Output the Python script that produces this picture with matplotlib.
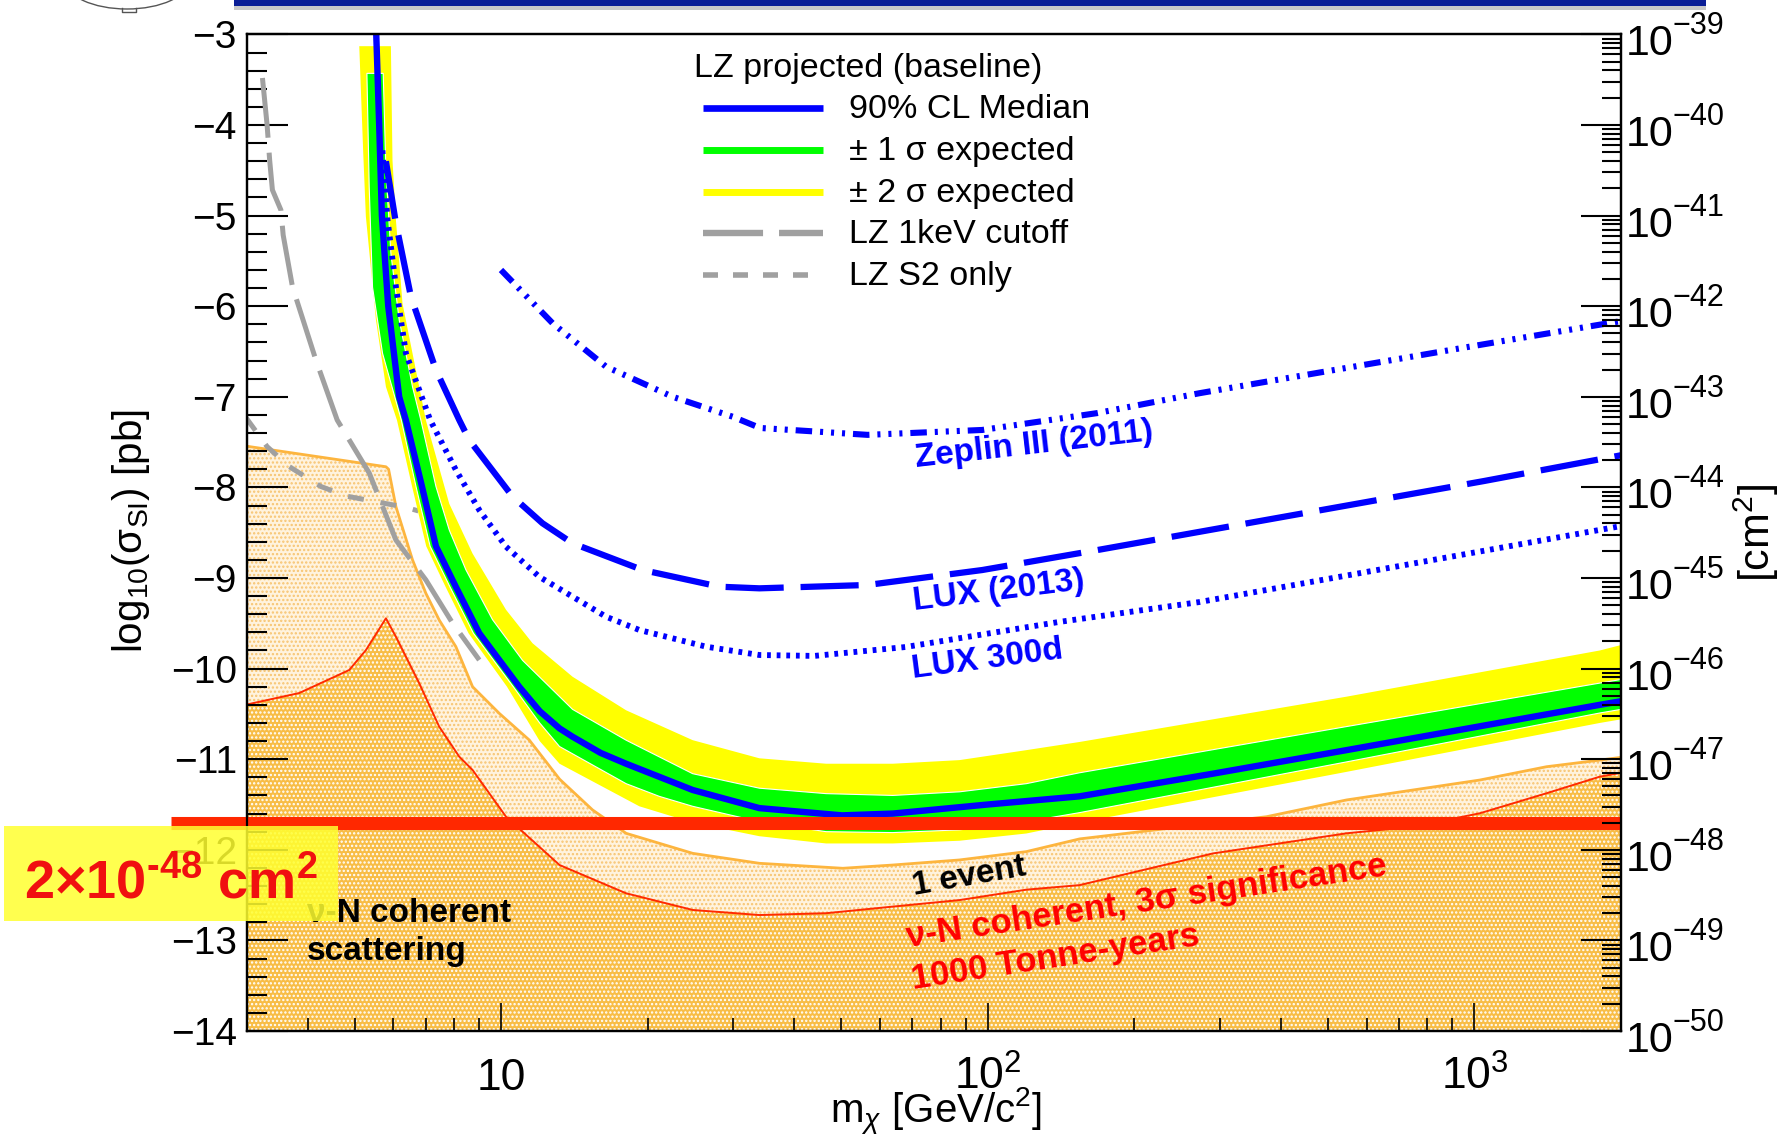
import numpy as np
import matplotlib
matplotlib.use("Agg")
import matplotlib.pyplot as plt
from matplotlib.patches import Rectangle, Arc
from matplotlib.lines import Line2D
from matplotlib.ticker import MultipleLocator, LogLocator, FuncFormatter, NullFormatter
from matplotlib.transforms import blended_transform_factory

plt.rcParams['font.family'] = ['Liberation Sans', 'DejaVu Sans']
plt.rcParams['mathtext.fontset'] = 'custom'
plt.rcParams['mathtext.rm'] = 'Liberation Sans'
plt.rcParams['mathtext.it'] = 'Liberation Sans:italic'
plt.rcParams['mathtext.bf'] = 'Liberation Sans:bold'
plt.rcParams['hatch.linewidth'] = 1.1

# ---------------- data: WIMP mass [GeV/c^2], log10(sigma_SI / pb) ----------------
med_m = [5.53, 5.615, 5.687, 5.861, 6.172, 6.372, 6.875, 7.345, 8.074, 9.016, 10.89, 12.0, 13.18, 14.0,
         16.0, 18.06, 24.75, 33.93, 50.2, 63.8, 100, 154.3, 290, 545.6, 1809, 2000]
med_s = [-2.9, -4.0, -5.0, -6.0, -7.0, -7.26, -7.99, -8.65, -9.10, -9.61, -10.20, -10.47, -10.66, -10.75,
         -10.93, -11.05, -11.34, -11.54, -11.62, -11.60, -11.50, -11.41, -11.16, -10.90, -10.40, -10.36]

s2hi_m = [5.935, 5.98, 6.078, 6.27, 6.574, 7.004, 7.822, 8.734, 10.23, 11.6, 14.02, 18.06, 24.75,
          33.93, 46.53, 63.78, 87.47, 120.0, 154.3, 545.6, 1809, 2000]
s2hi_s = [-3.13, -4.39, -5.05, -5.97, -6.52, -7.26, -8.18, -8.73, -9.35, -9.72, -10.09, -10.46, -10.79,
          -10.99, -11.05, -11.05, -11.01, -10.90, -10.81, -10.31, -9.80, -9.74]

s1hi_m = [5.723, 5.797, 5.935, 6.172, 6.574, 6.84, 7.345, 7.822, 8.464, 9.60, 11.07, 14.02, 18.06,
          24.75, 33.93, 46.53, 63.78, 87.47, 120.0, 154.3, 545.6, 1809, 2000]
s1hi_s = [-3.43, -4.50, -5.42, -6.15, -6.89, -7.26, -7.99, -8.47, -8.91, -9.46, -9.91, -10.45, -10.79,
          -11.16, -11.32, -11.38, -11.40, -11.36, -11.27, -11.15, -10.64, -10.16, -10.12]

s1lo_m = [5.298, 5.356, 5.441, 5.705, 6.237, 6.683, 7.145, 7.852, 8.77, 10.59, 12.0, 13.18, 18.06, 21.13,
          24.75, 33.93, 46.53, 63.78, 87.47, 120.0, 154.3, 545.6, 1809, 2000]
s1lo_s = [-3.43, -4.68, -5.79, -6.52, -7.26, -7.99, -8.65, -9.10, -9.61, -10.20, -10.60, -10.86, -11.27,
          -11.41, -11.52, -11.69, -11.80, -11.81, -11.78, -11.69, -11.59, -11.03, -10.49, -10.45]

s2lo_m = [5.11, 5.207, 5.272, 5.529, 5.797, 6.109, 6.561, 7.015, 7.691, 8.57, 10.28, 12.0, 13.18, 19.23,
          24.75, 33.93, 46.53, 63.78, 87.47, 120.0, 154.3, 545.6, 1809, 2000]
s2lo_s = [-3.13, -4.31, -5.01, -6.15, -6.89, -7.26, -7.99, -8.65, -9.10, -9.61, -10.20, -10.80, -11.05,
          -11.52, -11.70, -11.85, -11.93, -11.93, -11.90, -11.82, -11.70, -11.14, -10.60, -10.56]

zep_m = [9.991, 12.76, 16.42, 22.51, 29.91, 34.04, 56.58, 97.39, 167.7, 272.4, 1045, 1966, 2000]
zep_s = [-5.60, -6.189, -6.667, -7.0, -7.22, -7.344, -7.42, -7.366, -7.18, -6.96, -6.42, -6.171, -6.165]

lux13_m = [5.797, 6.078, 6.525, 7.345, 8.201, 8.598, 10.55, 12.16, 14.02, 19.53, 28.08, 33.93, 56.58,
           97.39, 167.7, 272.4, 1045, 1966, 2000]
lux13_s = [-4.40, -5.085, -5.895, -6.704, -7.256, -7.477, -8.10, -8.396, -8.617, -8.912, -9.096, -9.114,
           -9.077, -8.912, -8.692, -8.49, -7.93, -7.653, -7.645]

lux300_m = [5.702, 5.842, 6.078, 6.372, 7.147, 8.072, 9.016, 10.23, 11.97, 14.02, 16.42, 19.23, 26.37,
            33.93, 44.0, 67.7, 139.7, 272.4, 1966, 2000]
lux300_s = [-4.28, -5.049, -5.785, -6.52, -7.256, -7.808, -8.25, -8.654, -8.986, -9.206, -9.427, -9.574,
            -9.758, -9.85, -9.86, -9.762, -9.486, -9.265, -8.434, -8.425]

kev_m = [3.232, 3.304, 3.344, 3.388, 3.527, 3.565, 3.726, 4.162, 4.603, 5.356, 6.078, 7.004, 7.943, 9.016]
kev_s = [-3.481, -4.0, -4.386, -4.717, -4.938, -5.214, -5.788, -6.594, -7.256, -7.841, -8.581, -9.022,
         -9.497, -9.905]

s2only_m = [2.99, 3.304, 3.668, 4.262, 4.797, 5.529, 6.372, 6.76]
s2only_s = [-7.23, -7.55, -7.77, -7.99, -8.095, -8.158, -8.22, -8.26]

event1_m = [2.98, 5.797, 5.87, 6.078, 6.574, 7.004, 7.459, 8.07, 8.734, 9.91, 11.42, 13.18, 15.41,
            18.06, 24.75, 33.93, 50.35, 63.78, 87.47, 120.0, 154.3, 373.6, 545.6, 747.6, 1025.4,
            1406, 1809, 2000]
event1_s = [-7.543, -7.772, -7.80, -8.213, -8.80, -9.17, -9.464, -9.758, -10.20, -10.494, -10.788,
            -11.22, -11.56, -11.818, -12.039, -12.149, -12.204, -12.168, -12.112, -12.02, -11.88,
            -11.635, -11.45, -11.34, -11.23, -11.083, -11.01, -10.98]

sig3_m = [2.98, 3.845, 4.872, 5.275, 5.797, 6.078, 6.787, 7.459, 8.201, 8.734, 10.23, 13.18, 18.06,
          24.75, 33.93, 46.53, 63.78, 87.47, 120.0, 154.3, 290.1, 545.6, 747.6, 1025.4, 1406, 1809, 2000]
sig3_s = [-10.40, -10.27, -10.016, -9.795, -9.445, -9.648, -10.162, -10.641, -10.972, -11.119,
          -11.634, -12.168, -12.48, -12.664, -12.72, -12.70, -12.627, -12.555, -12.44, -12.39,
          -12.04, -11.818, -11.745, -11.597, -11.376, -11.193, -11.15]

floor_cm2 = 2e-48                      # highlighted cross-section [cm^2]
floor_pb = np.log10(floor_cm2 / 1e-36)  # same value in log10(pb)

x_ticks = [10, 100, 1000]
x_tick_labels = ['10', r'$\mathdefault{10^{2}}$', r'$\mathdefault{10^{3}}$']
cm2_decades = list(range(-50, -38))

legend_title = 'LZ projected (baseline)'
legend_labels = ['90% CL Median', '\u00b1 1 \u03c3 expected', '\u00b1 2 \u03c3 expected',
                 'LZ 1keV cutoff', 'LZ S2 only']

# ---------------- figure ----------------
W, H = 1790, 1139
fig = plt.figure(figsize=(W / 100, H / 100), dpi=100)
ax = fig.add_axes([246.7 / W, 1 - 1031 / H, (1621 - 246.7) / W, (1031 - 34.4) / H])
ax.set_xscale('log')
ax.set_xlim(3, 2000)
ax.set_ylim(-14, -3)

BLUE = '#0000FF'
GRAY = '#A0A0A0'

# neutrino background regions
bx = event1_m + [2000, 2.98]
by = event1_s + [-14.5, -14.5]
ax.fill(bx, by, facecolor='#FFF3DE', edgecolor='none', lw=0, zorder=1.0)
ax.fill(bx, by, facecolor='none', edgecolor='#F7C470', hatch='....', lw=0, zorder=1.05)
dx = sig3_m + [2000, 2.98]
dy = sig3_s + [-14.5, -14.5]
ax.fill(dx, dy, facecolor='#F8BD46', edgecolor='none', lw=0, zorder=1.1)
ax.fill(dx, dy, facecolor='none', edgecolor='white', hatch='....', lw=0, zorder=1.15)
ax.plot(event1_m, event1_s, color='#FDB53E', lw=2.0, zorder=1.3)
ax.plot(sig3_m, sig3_s, color='#FF2A00', lw=1.4, zorder=1.35)

# LZ threshold variants
ax.plot(kev_m, kev_s, color=GRAY, lw=3.6, linestyle=(0, (12, 3)), dash_capstyle='butt', zorder=2)
ax.plot(s2only_m, s2only_s, color=GRAY, lw=3.6, linestyle=(0, (3.2, 3.4)),
        dash_capstyle='butt', zorder=2)

# LZ projected sensitivity bands
yb_x = np.concatenate([s2hi_m, s2lo_m[::-1]])
yb_y = np.concatenate([s2hi_s, s2lo_s[::-1]])
ax.fill(yb_x, yb_y, facecolor='#FFFF00', edgecolor='none', lw=0, zorder=2.2)
gb_x = np.concatenate([s1hi_m, s1lo_m[::-1]])
gb_y = np.concatenate([s1hi_s, s1lo_s[::-1]])
ax.fill(gb_x, gb_y, facecolor='#00FF00', edgecolor='white', lw=0.8, zorder=2.3)
ax.plot(med_m, med_s, color=BLUE, lw=4.6, zorder=2.4)

# existing limits
ax.plot(zep_m, zep_s, color=BLUE, lw=4.4,
        linestyle=(0, (2.7, 1.3, 0.5, 1.3, 0.5, 1.3, 0.5, 1.3)), dash_capstyle='butt', zorder=2.6)
ax.plot(lux13_m, lux13_s, color=BLUE, lw=4.5, linestyle=(0, (9.3, 2.7)),
        dash_capstyle='butt', zorder=2.6)
ax.plot(lux300_m, lux300_s, color=BLUE, lw=4.2, linestyle=(0, (0.65, 1.0)),
        dash_capstyle='butt', zorder=2.6)

# curve labels
bold = dict(fontweight='bold', zorder=3)
ax.text(124.4, -7.53, 'Zeplin III (2011)', color=BLUE, rotation=6.5, ha='center', va='center',
        rotation_mode='anchor', fontsize=24, **bold)
ax.text(105.5, -9.14, 'LUX (2013)', color=BLUE, rotation=7, ha='center', va='center',
        rotation_mode='anchor', fontsize=24, **bold)
ax.text(100.0, -9.90, 'LUX 300d', color=BLUE, rotation=7.5, ha='center', va='center',
        rotation_mode='anchor', fontsize=24, **bold)
ax.text(91.7, -12.30, '1 event', color='black', rotation=10, ha='center', va='center',
        rotation_mode='anchor', fontsize=24, **bold)
ax.text(68.5, -13.07, '\u03bd-N coherent, 3\u03c3 significance', color='#FF0000', rotation=8.5,
        ha='left', va='baseline', rotation_mode='anchor', fontsize=25, **bold)
ax.text(70.1, -13.54, '1000 Tonne-years', color='#FF0000', rotation=8.7,
        ha='left', va='baseline', rotation_mode='anchor', fontsize=25, **bold)
ax.text(3.996, -12.794, '\u03bd-N coherent', color='black', ha='left', va='baseline',
        fontsize=24, **bold)
ax.text(3.996, -13.216, 'scattering', color='black', ha='left', va='baseline', fontsize=24, **bold)

# highlighted cross-section line, extending left of the frame
tr_line = blended_transform_factory(ax.transAxes, ax.transData)
ax.plot([-0.0551, 1.0], [floor_pb, floor_pb], transform=tr_line, color='#FF2800', lw=9.4,
        solid_capstyle='butt', clip_on=False, zorder=10)

# legend drawn in axes coordinates
ax.text(0.3253, 0.95755, legend_title, transform=ax.transAxes, fontsize=24.5, ha='left',
        va='baseline', zorder=5)
hx = [0.3317, 0.4193]
rows_line = [0.92586, 0.88401, 0.84217, 0.80043, 0.75858]
rows_text = [0.91581, 0.87397, 0.83213, 0.79039, 0.74855]
styles = [dict(color=BLUE, lw=4.8),
          dict(color='#00FF00', lw=5.0),
          dict(color='#FFFF00', lw=5.0),
          dict(color=GRAY, lw=4.6, linestyle=(0, (9.4, 2.5)), dash_capstyle='butt'),
          dict(color=GRAY, lw=4.0, linestyle=(0, (2.7, 2.7)), dash_capstyle='butt')]
for yl, yt, st, lab in zip(rows_line, rows_text, styles, legend_labels):
    ax.plot(hx, [yl, yl], transform=ax.transAxes, solid_capstyle='butt', zorder=5, **st)
    ax.text(0.43811, yt, lab, transform=ax.transAxes, fontsize=24.5, ha='left',
            va='baseline', zorder=5)

# ---------------- axes styling ----------------
for sp in ax.spines.values():
    sp.set_linewidth(1.6)
ax.yaxis.set_major_locator(MultipleLocator(1))
ax.yaxis.set_minor_locator(MultipleLocator(0.2))
ax.yaxis.set_major_formatter(FuncFormatter(lambda v, p: f"{int(round(v))}".replace('-', '\u2212')))
ax.tick_params(axis='y', which='major', direction='in', length=29.5, width=1.5,
               labelsize=28, pad=7, right=False)
ax.tick_params(axis='y', which='minor', direction='in', length=14.4, width=1.5, right=False)
ax.xaxis.set_major_locator(LogLocator(base=10, numticks=10))
ax.xaxis.set_minor_locator(LogLocator(base=10, subs=np.arange(2, 10), numticks=100))
ax.xaxis.set_minor_formatter(NullFormatter())
ax.tick_params(axis='x', which='major', direction='in', length=20, width=1.2,
               labelbottom=False, top=False)
ax.tick_params(axis='x', which='minor', direction='in', length=9.5, width=1.2, top=False)

tr_x = blended_transform_factory(ax.transData, ax.transAxes)
for xv, lab in zip(x_ticks, x_tick_labels):
    ax.text(xv, -0.0592, lab, transform=tr_x, ha='center', va='baseline', fontsize=32,
            clip_on=False)

# right-hand axis in cm^2
ax2 = ax.twinx()
ax2.set_yscale('log')
ax2.set_ylim(10.0 ** (-14 - 36), 10.0 ** (-3 - 36))
ax2.yaxis.set_major_locator(LogLocator(base=10, numticks=30))
ax2.yaxis.set_minor_locator(LogLocator(base=10, subs=np.arange(2, 10), numticks=400))
ax2.yaxis.set_major_formatter(NullFormatter())
ax2.yaxis.set_minor_formatter(NullFormatter())
ax2.tick_params(axis='y', which='major', direction='in', length=28.8, width=1.5)
ax2.tick_params(axis='y', which='minor', direction='in', length=13.7, width=1.5)
for sp in ax2.spines.values():
    sp.set_linewidth(1.6)
tr_r = blended_transform_factory(ax2.transAxes, ax2.transData)
for k in cm2_decades:
    ax2.annotate('10', xy=(1.0, 10.0 ** k), xycoords=tr_r, xytext=(3.1, -15.1),
                 textcoords='offset points', fontsize=31, ha='left', va='baseline',
                 annotation_clip=False)
    ax2.annotate('\u2212' + str(-k), xy=(1.0, 10.0 ** k), xycoords=tr_r, xytext=(37.4, 0.0),
                 textcoords='offset points', fontsize=22, ha='left', va='baseline',
                 annotation_clip=False)

# axis titles
fig.text(131 / W, 1 - 531 / H, r'log$_{10}$($\mathrm{\sigma}_{\mathrm{SI}}$) [pb]',
         rotation=90, ha='center', va='center', fontsize=29)
fig.text(1756.7 / W, 1 - 532.5 / H, r'[cm$^{2}$]', rotation=90, ha='center', va='center', fontsize=31)
fig.text(936 / W, 1 - 1123 / H, r'm$_{\chi}$ [GeV/c$^{2}$]', ha='center', va='baseline', fontsize=29)

# value callout box
fig.add_artist(Rectangle((4.5 / W, 1 - 921 / H), 333.5 / W, 95 / H, transform=fig.transFigure,
                         facecolor='#FFFF30', edgecolor='none', alpha=0.85, zorder=20))
callout = '$\\mathbf{2{\\times}10^{\u201048}\\ cm^{2}}$'
fig.text(170.5 / W, 1 - 898 / H, callout, color='#F01010',
         fontsize=39, ha='center', va='baseline', zorder=21)

# slide header bar and logo fragment
fig.add_artist(Rectangle((234 / W, 1 - 10 / H), 1472 / W, 4 / H, transform=fig.transFigure,
                         facecolor='#C8C8C8', edgecolor='none', zorder=20))
fig.add_artist(Rectangle((234 / W, 1 - 6 / H), 1472 / W, 6 / H, transform=fig.transFigure,
                         facecolor='#0A1E96', edgecolor='none', zorder=21))
fig.add_artist(Arc((127 / W, 1 + 20 / H), 124 / W, 58 / H, theta1=180, theta2=360,
                   transform=fig.transFigure, color='#555555', lw=1.0, zorder=20))
fig.add_artist(Line2D([122 / W, 122 / W, 136 / W, 136 / W], [1 - 8 / H, 1 - 12 / H, 1 - 12 / H, 1 - 8 / H],
                      transform=fig.transFigure, color='#555555', lw=1.0, zorder=20))

fig.savefig('out.png', dpi=100)
